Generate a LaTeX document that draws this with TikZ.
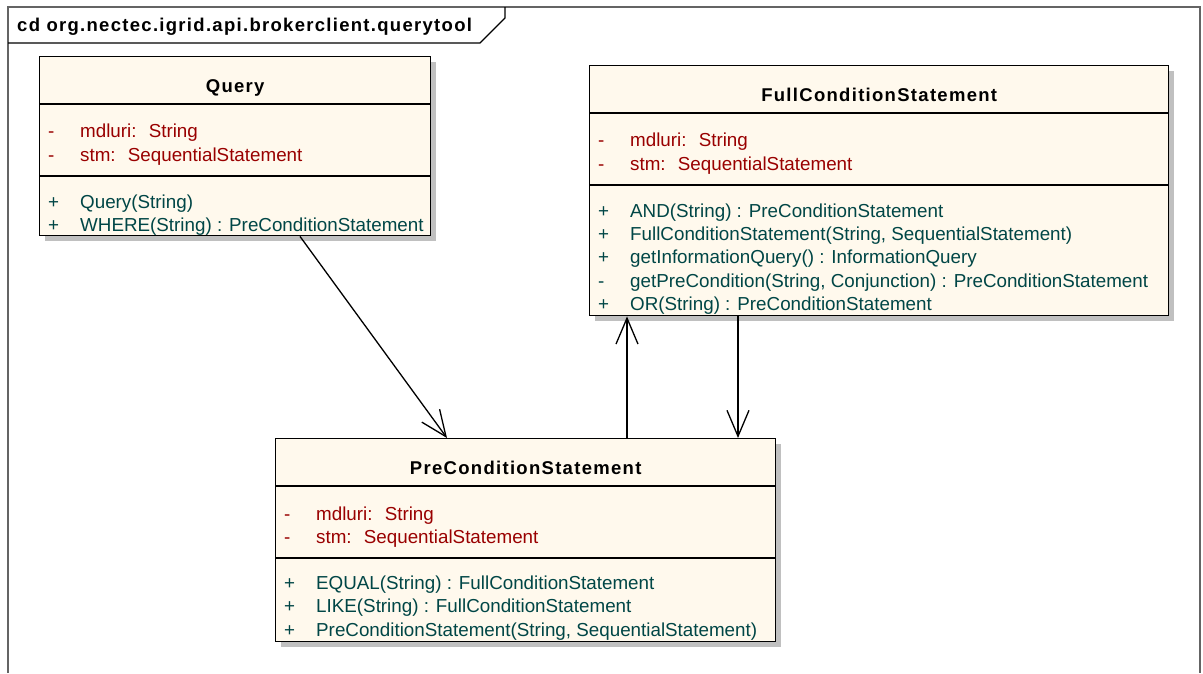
\documentclass[tikz,border=0pt]{standalone}
\usepackage{fontspec}
\setmainfont{Liberation Sans}
\newfontfamily\headfont[LetterSpace=7]{Liberation Sans}
\usetikzlibrary{arrows.meta,shadows}
\tikzset{>={Straight Barb[length=26pt,width=22pt]}}
\definecolor{boxfill}{RGB}{255,249,237}
\definecolor{attrred}{RGB}{153,0,0}
\definecolor{opteal}{RGB}{0,70,70}
\definecolor{shadowgray}{RGB}{192,192,192}
\definecolor{framegray}{RGB}{100,100,100}

\begin{document}
\begin{tikzpicture}[x=1pt, y=-1pt,
  classbox/.style={draw, line width=1.4pt, fill=boxfill, inner sep=0pt, anchor=north west,
    drop shadow={shadow xshift=5pt, shadow yshift=-5pt, fill=shadowgray, opacity=1}},
  sepline/.style={line width=1.2pt},
  headtext/.style={anchor=base, inner sep=0pt, font=\headfont\fontsize{18.5}{22}\selectfont\bfseries},
  attr/.style={anchor=base west, inner sep=0pt, text=attrred, font=\fontsize{18.8}{22}\selectfont},
  op/.style={attr, text=opteal},
  assoc/.style={->, line width=1.3pt}]

  \useasboundingbox (0,0) rectangle (1203,673);

  \newcommand\umlrow[6]{% style, name, left, baseline, sign, text
    \node[#1] (#2s) at (#3+9, #4) {#5};
    \node[#1] (#2) at (#3+41, #4) {#6};}

  %% frame
  \draw[framegray, line width=1.8pt] (8,673) -- (8,7) -- (1200,7) -- (1200,673);
  \draw[line width=1.2pt] (8,43) -- (480,43) -- (505,18) -- (505,7);
  \node[headtext, anchor=base west] (frametitle) at (17,31) {cd org.nectec.igrid.api.brokerclient.querytool};

  %% Query
  \node[classbox, minimum width=391pt, minimum height=179pt] (query) at (39,56) {};
  \draw[sepline] ([yshift=-48pt]query.north west) -- ([yshift=-48pt]query.north east);
  \draw[sepline] ([yshift=-120pt]query.north west) -- ([yshift=-120pt]query.north east);
  \node[headtext] (querytitle) at ([yshift=-36pt]query.north) {Query};
  \umlrow{attr}{qa1}{39}{137}{-}{mdluri:~ String}
  \umlrow{attr}{qa2}{39}{161}{-}{stm:~ SequentialStatement}
  \umlrow{op}{qo1}{39}{208}{+}{Query(String)}
  \umlrow{op}{qo2}{39}{231}{+}{WHERE(String) : PreConditionStatement}

  %% FullConditionStatement
  \node[classbox, minimum width=579pt, minimum height=250pt] (full) at (589,65) {};
  \draw[sepline] ([yshift=-48pt]full.north west) -- ([yshift=-48pt]full.north east);
  \draw[sepline] ([yshift=-120pt]full.north west) -- ([yshift=-120pt]full.north east);
  \node[headtext] (fulltitle) at ([yshift=-36pt]full.north) {FullConditionStatement};
  \umlrow{attr}{fa1}{589}{146}{-}{mdluri:~ String}
  \umlrow{attr}{fa2}{589}{170}{-}{stm:~ SequentialStatement}
  \umlrow{op}{fo1}{589}{217}{+}{AND(String) : PreConditionStatement}
  \umlrow{op}{fo2}{589}{240}{+}{FullConditionStatement(String, SequentialStatement)}
  \umlrow{op}{fo3}{589}{263}{+}{getInformationQuery() : InformationQuery}
  \umlrow{op}{fo4}{589}{287}{-}{getPreCondition(String, Conjunction) : PreConditionStatement}
  \umlrow{op}{fo5}{589}{310}{+}{OR(String) : PreConditionStatement}

  %% PreConditionStatement
  \node[classbox, minimum width=500pt, minimum height=203pt] (pre) at (275,438) {};
  \draw[sepline] ([yshift=-48pt]pre.north west) -- ([yshift=-48pt]pre.north east);
  \draw[sepline] ([yshift=-120pt]pre.north west) -- ([yshift=-120pt]pre.north east);
  \node[headtext] (pretitle) at ([yshift=-36pt]pre.north) {PreConditionStatement};
  \umlrow{attr}{pa1}{275}{520}{-}{mdluri:~ String}
  \umlrow{attr}{pa2}{275}{543}{-}{stm:~ SequentialStatement}
  \umlrow{op}{po1}{275}{589}{+}{EQUAL(String) : FullConditionStatement}
  \umlrow{op}{po2}{275}{612}{+}{LIKE(String) : FullConditionStatement}
  \umlrow{op}{po3}{275}{636}{+}{PreConditionStatement(String, SequentialStatement)}

  \draw[assoc] ([xshift=261pt]query.south west) -- ([xshift=172pt]pre.north west); %% Query->Pre
  \draw[assoc] ([xshift=352pt]pre.north west) -- ([xshift=38pt]full.south west); %% Pre->Full
  \draw[assoc] ([xshift=149pt]full.south west) -- ([xshift=463pt]pre.north west); %% Full->Pre

\end{tikzpicture}
\end{document}
